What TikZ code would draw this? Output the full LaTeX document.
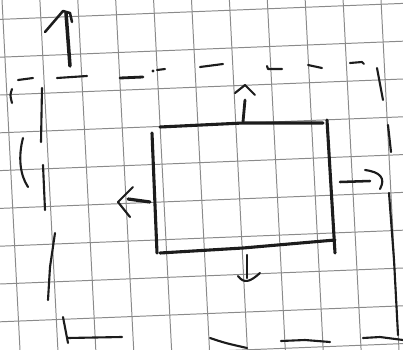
\documentclass[tikz,border=0pt]{standalone}
\usepackage{xcolor}
\usepackage{tikz}
\definecolor{paper}{HTML}{FFFFFF}
\definecolor{gridgray}{HTML}{8A8A8A}
\definecolor{ink}{HTML}{1C1C1C}
\begin{document}
\begin{tikzpicture}[
  x=0.025cm, y=-0.025cm,
  gridline/.style={draw=gridgray, line width=0.7pt},
  pen/.style={draw=ink, line width=1.5pt, line cap=round, line join=round},
  boxpen/.style={draw=ink, line width=2.2pt, line cap=round, line join=round}
]
  \useasboundingbox (0,0) rectangle (403,350);
  \fill[paper] (0,0) rectangle (403,350);
  \begin{scope}
    \clip (0,0) rectangle (403,350);
    \foreach \i in {0,...,10}
      \draw[gridline] (2+37.9*\i,0) -- (20+37.9*\i,350);
    \foreach \j in {-2,...,7}
      \draw[gridline] (0,95+37.8*\j) -- (403,79+37.8*\j);
  \end{scope}
  % big arrow, top left
  \draw[pen, line width=2.5pt] (70,66) -- (66,13);
  \draw[pen, line width=1.8pt] (45,32) -- (63,11) -- (70,13) -- (72,22);
  % outer dashed frame
  \draw[pen] (18,80) -- (33,78);
  \draw[pen] (57,78) -- (87,76);
  \draw[pen, line width=2pt] (120,78) -- (143,77);
  \fill[ink] (153,71) circle (1.6);
  \draw[pen] (157,70) -- (165,69);
  \draw[pen] (200,67) -- (223,64);
  \draw[pen] (267,66) -- (268,69) -- (282,69);
  \draw[pen] (308,65) -- (322,68);
  \draw[pen] (350,63) -- (362,62) -- (364,64);
  \draw[pen] (377,68) -- (383,100);
  \draw[pen] (388,125) -- (391,152);
  \draw[pen] (389,193) -- (394,260) -- (398,335);
  \draw[pen] (363,338) -- (380,337) -- (403,340);
  \draw[pen] (12,89) .. controls (10,95) .. (12,103);
  \draw[pen] (42,88) -- (41,142);
  \draw[pen] (23,138) .. controls (18,157) and (20,175) .. (28,187);
  \draw[pen] (43,165) -- (45,210);
  \draw[pen] (55,233) -- (50,267) -- (48,300);
  \draw[pen] (63,317) -- (68,343);
  \draw[pen] (68,338) -- (122,337);
  \draw[pen] (210,338) .. controls (225,343) .. (247,348);
  \draw[pen] (281,341) -- (305,340) -- (330,342);
  % inner box
  \draw[boxpen] (160,127) -- (243,123) -- (323,123);
  \draw[boxpen] (152,133) -- (157,253);
  \draw[boxpen] (327,120) -- (335,253);
  \draw[boxpen] (160,253) -- (243,248) -- (335,240);
  % small arrows
  \draw[pen, line width=2pt] (243,122) -- (245,100);
  \draw[pen] (235,93) -- (245,85) -- (255,95);
  \draw[pen, line width=2.3pt] (150,202) -- (128,199);
  \draw[pen] (133,187) -- (118,202) -- (130,217);
  \draw[pen, line width=1.8pt] (340,182) -- (370,181);
  \draw[pen] (365,170) .. controls (380,172) and (386,178) .. (380,189);
  \draw[pen] (247,255) -- (247,278);
  \draw[pen] (238,276) .. controls (244,284) and (250,282) .. (260,273);
\end{tikzpicture}
\end{document}
